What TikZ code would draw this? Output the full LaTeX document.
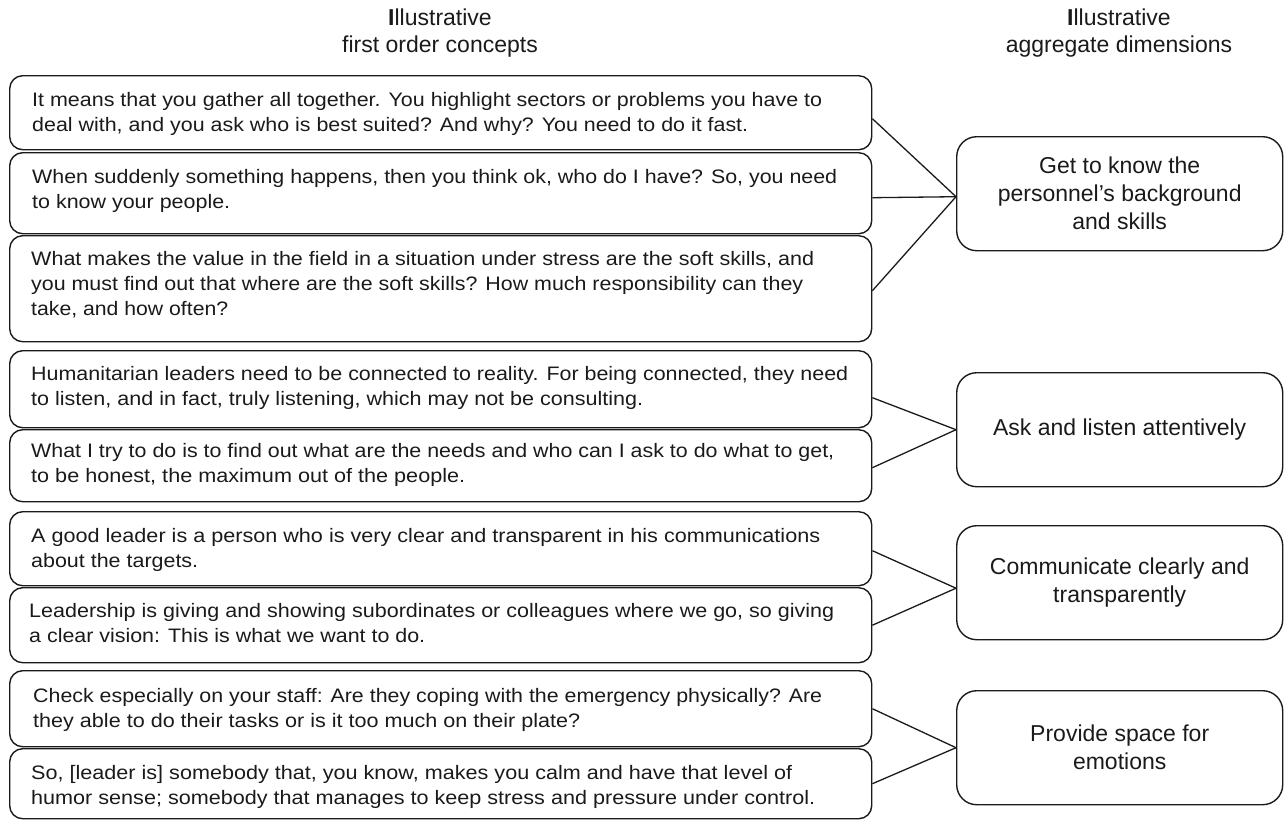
\documentclass[tikz,border=0pt]{standalone}
\usepackage{fontspec}
\setmainfont{Liberation Sans}
\usepackage{graphicx}
\newcommand\fitl[2]{\strut\resizebox{#1pt}{\height}{#2}}
\definecolor{ink}{HTML}{1A1A1A}
\begin{document}
\begin{tikzpicture}[x=1pt,y=-1pt,
  lbox/.style={draw=ink, line width=1.4pt, rounded corners=13pt, minimum width=862pt, anchor=north west, inner sep=0pt},
  rbox/.style={draw=ink, line width=1.4pt, rounded corners=20pt, minimum width=326pt, minimum height=114pt, anchor=north west,
               align=center, font=\fontsize{23}{28}\selectfont, text=ink},
  ltext/.style={anchor=north west, inner sep=0pt, align=left, font=\fontsize{19.5}{25}\selectfont, text=ink},
  head/.style={anchor=north, inner sep=0pt, align=center, font=\fontsize{23}{27}\selectfont, text=ink},
  link/.style={draw=ink, line width=1.3pt}]
\useasboundingbox (0,0) rectangle (1284,820);

% headers
\node[head] (h1) at (440,6) {\strut\textbf{I}llustrative\\\strut first order concepts};
\node[head] (h2) at (1119,6) {\strut\textbf{I}llustrative\\\strut aggregate dimensions};

% left boxes
\node[lbox, minimum height=74pt] (b1) at (9,75) {};
\node[lbox, minimum height=81pt] (b2) at (9,152) {};
\node[lbox, minimum height=106pt] (b3) at (9,235) {};
\node[lbox, minimum height=77pt] (b4) at (9,350) {};
\node[lbox, minimum height=72pt] (b5) at (9,429) {};
\node[lbox, minimum height=74pt] (b6) at (9,511) {};
\node[lbox, minimum height=75pt] (b7) at (9,587) {};
\node[lbox, minimum height=76pt] (b8) at (9,670) {};
\node[lbox, minimum height=70pt] (b9) at (9,748) {};

% texts (first baseline = y + 17.5)
\node[ltext] (t1) at (32,88.5) {\fitl{790}{It means that you gather all together. You highlight sectors or problems you have to}\\
  \fitl{716}{deal with, and you ask who is best suited? And why? You need to do it fast.}};
\node[ltext] (t2) at (32,165.5) {\fitl{805}{When suddenly something happens, then you think ok, who do I have? So, you need}\\
  \fitl{198}{to know your people.}};
\node[ltext] (t3) at (31,247.5) {\fitl{783}{What makes the value in the field in a situation under stress are the soft skills, and}\\
  \fitl{772}{you must find out that where are the soft skills? How much responsibility can they}\\
  \fitl{197}{take, and how often?}};
\node[ltext] (t4) at (31,362.5) {\fitl{817}{Humanitarian leaders need to be connected to reality. For being connected, they need}\\
  \fitl{612}{to listen, and in fact, truly listening, which may not be consulting.}};
\node[ltext] (t5) at (31,439.5) {\fitl{803}{What I try to do is to find out what are the needs and who can I ask to do what to get,}\\
  \fitl{434}{to be honest, the maximum out of the people.}};
\node[ltext] (t6) at (31,524.5) {\fitl{789}{A good leader is a person who is very clear and transparent in his communications}\\
  \fitl{167}{about the targets.}};
\node[ltext] (t7) at (29,599.5) {\fitl{805}{Leadership is giving and showing subordinates or colleagues where we go, so giving}\\
  \fitl{396}{a clear vision: This is what we want to do.}};
\node[ltext] (t8) at (33,684.5) {\fitl{789}{Check especially on your staff: Are they coping with the emergency physically? Are}\\
  \fitl{547}{they able to do their tasks or is it too much on their plate?}};
\node[ltext] (t9) at (31,761.5) {\fitl{761}{So, [leader is] somebody that, you know, makes you calm and have that level of}\\
  \fitl{784}{humor sense; somebody that manages to keep stress and pressure under control.}};

% right boxes
\node[rbox] (r1) at (956,136) {Get to know the\\personnel’s background\\and skills};
\node[rbox] (r2) at (956,372) {Ask and listen attentively};
\node[rbox] (r3) at (956,525) {Communicate clearly and\\transparently};
\node[rbox] (r4) at (956,690) {Provide space for\\emotions};

% connectors
\draw[link] ([yshift=-6pt]b1.east) -- ([yshift=-3pt]r1.west);
\draw[link] ([yshift=-4.5pt]b2.east) -- ([yshift=-3pt]r1.west);
\draw[link] ([yshift=-2pt]b3.east) -- ([yshift=-3pt]r1.west);
\draw[link] ([yshift=-8.5pt]b4.east) -- (r2.west);
\draw[link] ([yshift=-2pt]b5.east) -- (r2.west);
\draw[link] ([yshift=-2pt]b6.east) -- ([yshift=-5.5pt]r3.west);
\draw[link] (b7.east) -- ([yshift=-5.5pt]r3.west);
\draw[link] (b8.east) -- (r4.west);
\draw[link] (b9.east) -- (r4.west);
\end{tikzpicture}
\end{document}
